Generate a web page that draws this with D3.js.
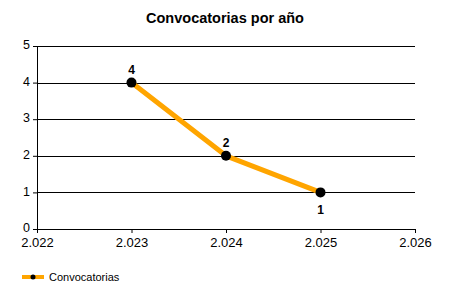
<!DOCTYPE html>
<html>
<head>
<meta charset="utf-8">
<script src="https://cdn.jsdelivr.net/npm/d3@7"></script>
<style>
  body { margin: 0; background: #fff; }
  svg { display: block; font-family: "Liberation Sans", Arial, sans-serif; }
</style>
</head>
<body>
<div id="chart"></div>
<script>
// data
const years = [2023, 2024, 2025];
const convocatorias = [4, 2, 1];
const xTicks = [2022, 2023, 2024, 2025, 2026];
const yTicks = [0, 1, 2, 3, 4, 5];
const labelPos = ["above", "above", "below"];

const width = 450, height = 300;
const margin = {top: 46, right: 35, bottom: 71, left: 37};
const w = width - margin.left - margin.right;
const h = height - margin.top - margin.bottom;

const es = d3.formatLocale({decimal: ",", thousands: ".", grouping: [3], currency: ["", "€"]});
const fmt = es.format(",d");

const svg = d3.select("#chart").append("svg")
    .attr("width", width)
    .attr("height", height);

svg.append("text")
    .attr("x", width / 2)
    .attr("y", 23)
    .attr("text-anchor", "middle")
    .attr("font-size", "14.5px")
    .attr("font-weight", "bold")
    .text("Convocatorias por año");

const g = svg.append("g")
    .attr("transform", `translate(${margin.left}, ${margin.top})`);

const x = d3.scaleLinear().domain([2022, 2026]).range([0, w]);
const y = d3.scaleLinear().domain([0, 5]).range([h, 0]);

// grid lines
g.selectAll(".grid")
    .data(yTicks.filter(d => d > 0))
    .join("line")
    .attr("class", "grid")
    .attr("x1", 0)
    .attr("x2", w)
    .attr("y1", d => Math.round(y(d)) + 0.5)
    .attr("y2", d => Math.round(y(d)) + 0.5)
    .attr("stroke", "#000")
    .attr("stroke-width", 1);

// axes
const xAxis = d3.axisBottom(x).tickValues(xTicks).tickFormat(fmt).tickSize(4).tickPadding(5);
const yAxis = d3.axisLeft(y).tickValues(yTicks).tickFormat(d3.format("d")).tickSize(4).tickPadding(3);

const xg = g.append("g")
    .attr("transform", `translate(0, ${h})`)
    .call(xAxis);
const yg = g.append("g").call(yAxis);

[xg, yg].forEach(a => {
    a.select(".domain").remove();
    a.selectAll("text").attr("font-size", "13px").attr("fill", "#000");
});
yg.selectAll("text").attr("font-size", "12.5px").attr("dy", "0.22em");
g.append("line").attr("x1", 0.5).attr("x2", 0.5).attr("y1", 0).attr("y2", h).attr("stroke", "#000");
g.append("line").attr("x1", 0).attr("x2", w).attr("y1", h + 0.5).attr("y2", h + 0.5).attr("stroke", "#000");

// line
const points = years.map((yr, i) => ({year: yr, value: convocatorias[i], pos: labelPos[i]}));

g.append("path")
    .datum(points)
    .attr("fill", "none")
    .attr("stroke", "#FFA500")
    .attr("stroke-width", 5)
    .attr("stroke-linejoin", "round")
    .attr("d", d3.line().x(d => x(d.year)).y(d => y(d.value)));

g.selectAll(".dot")
    .data(points)
    .join("circle")
    .attr("class", "dot")
    .attr("cx", d => x(d.year))
    .attr("cy", d => y(d.value))
    .attr("r", 5)
    .attr("fill", "#000");

g.selectAll(".lbl")
    .data(points)
    .join("text")
    .attr("class", "lbl")
    .attr("x", d => x(d.year))
    .attr("y", d => d.pos === "above" ? y(d.value) - 9 : y(d.value) + 22)
    .attr("text-anchor", "middle")
    .attr("font-size", "12px")
    .attr("font-weight", "bold")
    .text(d => d.value);

// legend
const leg = svg.append("g").attr("transform", "translate(22, 277)");
leg.append("line").attr("x1", 0).attr("x2", 22).attr("y1", 0).attr("y2", 0)
    .attr("stroke", "#FFA500").attr("stroke-width", 4);
leg.append("circle").attr("cx", 11).attr("cy", 0).attr("r", 2.5).attr("fill", "#000");
leg.append("text").attr("x", 27).attr("y", 4).attr("font-size", "11px").text("Convocatorias");
</script>
</body>
</html>
